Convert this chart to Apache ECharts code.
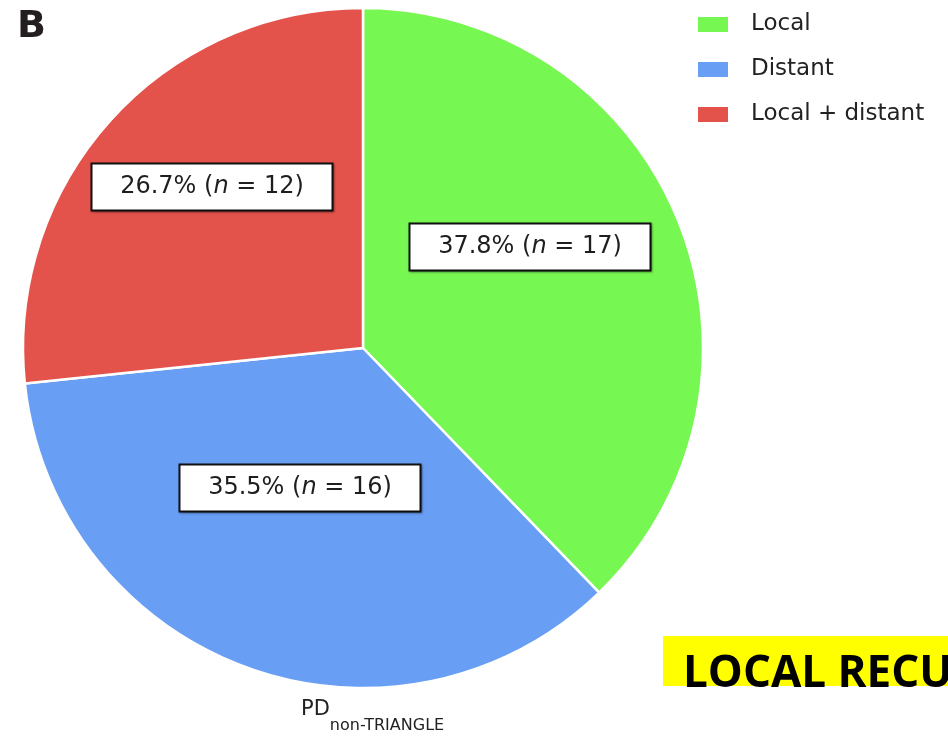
<!DOCTYPE html>
<html>
<head>
<meta charset="utf-8">
<script src="https://cdn.jsdelivr.net/npm/echarts@6/dist/echarts.min.js"></script>
<style>
  html, body { margin: 0; padding: 0; background: #fff; }
  #chart { width: 948px; height: 739px; }
</style>
</head>
<body>
<div id="chart"></div>
<script>
// Recurrence pattern in the PD non-TRIANGLE group
const categories = ['Local', 'Distant', 'Local + distant'];
const percents = [37.8, 35.5, 26.7];
const counts = [17, 16, 12];
const colors = ['#77F752', '#689EF3', '#E4534B'];

// Centre of each value box on the canvas
const labelCenters = [[530, 247], [300, 488], [212, 187]];

const chart = echarts.init(document.getElementById('chart'), null, { renderer: 'canvas' });

const labelFont = 'DejaVu Sans';

chart.setOption({
  backgroundColor: '#ffffff',
  animation: false,
  color: colors,
  legend: {
    orient: 'vertical',
    left: 691,
    top: 6,
    itemWidth: 32,
    itemHeight: 17,
    itemGap: 18,
    icon: 'rect',
    data: categories,
    textStyle: { fontFamily: labelFont, fontSize: 23, color: '#222', padding: [0, 0, 0, 17], lineHeight: 27 }
  },
  series: [{
    type: 'pie',
    center: [363, 348],
    radius: 340,
    startAngle: 90,
    clockwise: true,
    silent: true,
    itemStyle: { borderColor: '#ffffff', borderWidth: 2.5 },
    label: {
      show: true,
      position: 'inside',
      formatter: p => '{a|' + percents[p.dataIndex].toFixed(1) + '% (}{i|n}{a| = ' + counts[p.dataIndex] + ')}',
      backgroundColor: '#ffffff',
      borderColor: '#111111',
      borderWidth: 2,
      width: 239,
      height: 45,
      align: 'center',
      verticalAlign: 'middle',
      shadowColor: 'rgba(0,0,0,0.35)',
      shadowOffsetX: 1,
      shadowOffsetY: 1,
      shadowBlur: 2,
      rich: {
        a: { fontFamily: labelFont, fontSize: 24, color: '#1e1e1e', lineHeight: 45 },
        i: { fontFamily: labelFont, fontSize: 24, fontStyle: 'italic', color: '#1e1e1e', lineHeight: 45 }
      }
    },
    labelLine: { show: false },
    labelLayout: p => ({ x: labelCenters[p.dataIndex][0], y: labelCenters[p.dataIndex][1], align: 'center', verticalAlign: 'middle' }),
    data: categories.map((c, i) => ({ name: c, value: counts[i] }))
  }],
  graphic: [
    {
      type: 'text',
      left: 17,
      top: 8,
      style: { text: 'B', fontFamily: 'DejaVu Sans', fontWeight: 'bold', fontSize: 38, fill: '#231f20' }
    },
    {
      type: 'text',
      left: 301,
      top: 699,
      style: {
        text: '{m|PD}{s|non-TRIANGLE}',
        rich: {
          m: { fontFamily: labelFont, fontSize: 21, fill: '#222', verticalAlign: 'bottom', lineHeight: 30 },
          s: { fontFamily: labelFont, fontSize: 16, fill: '#222', verticalAlign: 'bottom', lineHeight: 18, padding: [0, 0, -14, 0] }
        }
      }
    },
    {
      type: 'rect',
      shape: { x: 663, y: 636, width: 300, height: 50 },
      style: { fill: '#FFFF00' }
    },
    {
      type: 'text',
      left: 683,
      top: 652,
      style: { text: 'LOCAL RECURRENCE', fontFamily: 'Open Sans', fontWeight: 'bold', fontSize: 44, fill: '#000' }
    }
  ]
});
</script>
</body>
</html>
